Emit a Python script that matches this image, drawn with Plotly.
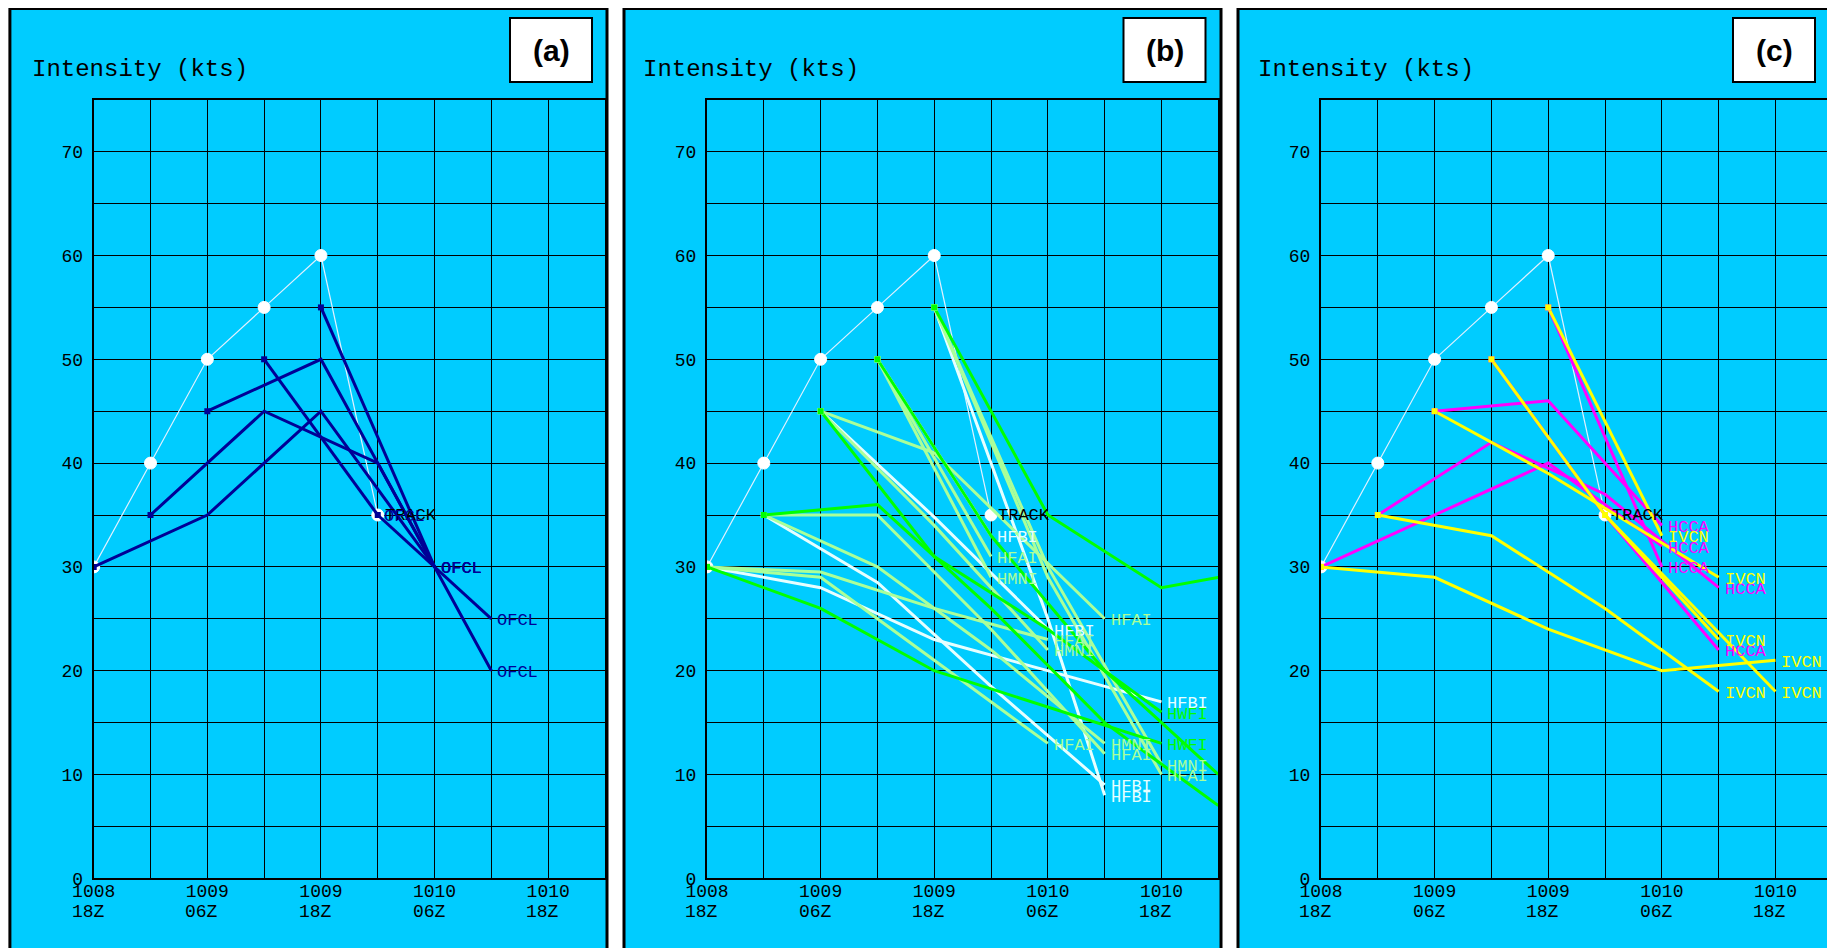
import plotly.graph_objects as go

W, H = 1835, 948
MONO = "Liberation Mono, Courier New, monospace"

# ---------------- data (x = hours after 1008 18Z, y = kts) ----------------
track_x = [0, 6, 12, 18, 24, 30]
track_y = [30, 40, 50, 55, 60, 35]

xtick_vals = [0, 6, 12, 18, 24, 30, 36, 42, 48, 54]
xtick_day = ["1008", "", "1009", "", "1009", "", "1010", "", "1010", ""]
xtick_hour = ["18Z", "", "06Z", "", "18Z", "", "06Z", "", "18Z", ""]
ytick_vals = [0, 5, 10, 15, 20, 25, 30, 35, 40, 45, 50, 55, 60, 65, 70, 75]
ytick_text = ["0", "", "10", "", "20", "", "30", "", "40", "", "50", "", "60", "", "70", ""]

panel_letters = ["(a)", "(b)", "(c)"]

# panel (a): official forecasts
ofcl_x = [[0, 12, 24, 36], [6, 18, 30, 42], [12, 24, 36], [18, 30], [24, 36], [30, 42]]
ofcl_y = [[30, 35, 45, 30], [35, 45, 40, 20], [45, 50, 30], [50, 35], [55, 30], [35, 25]]

# panel (b): HWRF-family models
hwfi_x = [[0, 12, 24, 36, 48], [6, 18, 30, 42, 54], [12, 24, 36, 48], [18, 30, 42, 54], [24, 36, 48, 60]]
hwfi_y = [[30, 26, 20, 16.5, 13], [35, 36, 26, 15, 7], [45, 31, 24, 16], [50, 33, 20, 10], [55, 35, 28, 30]]
hfbi_x = [[0, 12, 24, 36, 48], [6, 18, 30, 42], [12, 24, 36], [18, 30], [24, 36, 42]]
hfbi_y = [[30, 28, 23, 20, 17], [35, 28.5, 18.5, 9], [45, 34.8, 24], [50, 33], [55, 25, 8]]
hfai_x = [[0, 12, 24, 36], [0, 12, 24, 36], [6, 18, 30, 42], [12, 24, 42], [18, 30], [24, 36, 48]]
hfai_y = [[30, 29.5, 26, 23], [30, 29, 21, 13], [35, 35, 24, 12], [45, 41, 25], [50, 31], [55, 29, 10]]
hmni_x = [[6, 18, 30, 42], [12, 24, 36], [18, 30], [24, 36, 48]]
hmni_y = [[35, 30, 22, 13], [45, 34, 22], [50, 29], [55, 30, 11]]

# panel (c): consensus models
hcca_x = [[0, 12, 24, 36], [6, 18, 30, 42], [12, 24, 36], [18, 30, 42], [24, 36]]
hcca_y = [[30, 35, 40, 32], [35, 42, 37, 28], [45, 46, 34], [50, 35, 22], [55, 30]]
ivcn_x = [[0, 12, 24, 36, 48], [6, 18, 30, 42], [12, 24, 36, 42], [18, 30, 42], [24, 36], [30, 48]]
ivcn_y = [[30, 29, 24, 20, 21], [35, 33, 26, 18], [45, 39, 32.3, 29], [50, 35, 23], [55, 33], [35, 18]]

# ---------------- styling / geometry ----------------
CYAN = "#00CCFF"
NAVY = "#000096"
GREEN = "#00FF00"
PALE = "#AAFF99"
WHITE_L = "#E6FFFF"
YELLOW = "#FFFF00"
MAGENTA = "#FF00FF"

OFF = 8.0  # page body margin compensation
plot_x0 = [93.7 - OFF, 707.0 - OFF, 1321.0 - OFF]
plot_w = 511.3
plot_top, plot_bot = 99.8 - OFF, 878.3 - OFF
panel_left = [9.9 - OFF, 624.0 - OFF, 1238.0 - OFF]
panel_right = [607.0 - OFF, 1221.0 - OFF, 1850.0]
frame_top = 8.5 - OFF
box_x0 = [510.0 - OFF, 1123.5 - OFF, 1733.0 - OFF]
box_top, box_bot = 18.0 - OFF, 82.0 - OFF
title_x = [29.7 - OFF, 641.0 - OFF, 1255.7 - OFF]
title_y = 70.0 - OFF


def fx(x):
    return x / W


def fy(y):
    return 1 - y / H


panels = [
    [("OFCL", ofcl_x, ofcl_y, NAVY, NAVY)],
    [("HFBI", hfbi_x, hfbi_y, WHITE_L, WHITE_L),
     ("HFAI", hfai_x, hfai_y, PALE, PALE),
     ("HMNI", hmni_x, hmni_y, PALE, PALE),
     ("HWFI", hwfi_x, hwfi_y, GREEN, GREEN)],
    [("HCCA", hcca_x, hcca_y, MAGENTA, MAGENTA),
     ("IVCN", ivcn_x, ivcn_y, YELLOW, YELLOW)],
]

fig = go.Figure()
shapes = []
annotations = []
layout_axes = {}

for i in range(3):
    sfx = "" if i == 0 else str(i + 1)
    xa, ya = "x" + sfx, "y" + sfx
    xdom = [fx(plot_x0[i]), fx(plot_x0[i] + plot_w)]
    ydom = [fy(plot_bot), fy(plot_top)]
    layout_axes["xaxis" + sfx] = dict(
        domain=xdom, anchor=ya, range=[0, 54], tickmode="array",
        tickvals=xtick_vals, ticktext=xtick_day, automargin=False,
        showgrid=True, gridcolor="black", gridwidth=1.3,
        showline=True, linecolor="black", linewidth=2, mirror=True,
        ticks="outside", ticklen=2, tickcolor="rgba(0,0,0,0)", ticklabelstandoff=-7,
        tickfont=dict(family=MONO, size=18, color="black"),
        zeroline=False, fixedrange=True)
    layout_axes["yaxis" + sfx] = dict(
        domain=ydom, anchor=xa, range=[0, 75], tickmode="array",
        tickvals=ytick_vals, ticktext=ytick_text, automargin=False,
        showgrid=True, gridcolor="black", gridwidth=1.3,
        showline=True, linecolor="black", linewidth=2, mirror=True,
        ticks="outside", ticklen=5, tickcolor="rgba(0,0,0,0)",
        tickfont=dict(family=MONO, size=18, color="black"),
        zeroline=False, fixedrange=True)

    # panel frame
    shapes.append(dict(type="rect", xref="paper", yref="paper", layer="below",
                       x0=fx(panel_left[i]), x1=fx(panel_right[i]),
                       y0=-0.05, y1=fy(frame_top),
                       fillcolor=CYAN, line=dict(color="black", width=3)))
    # letter box
    shapes.append(dict(type="rect", xref="paper", yref="paper", layer="above",
                       x0=fx(box_x0[i]), x1=fx(box_x0[i] + 82),
                       y0=fy(box_bot), y1=fy(box_top),
                       fillcolor="white", line=dict(color="black", width=2)))
    annotations.append(dict(xref="paper", yref="paper", x=fx(box_x0[i] + 41),
                            y=fy((box_top + box_bot) / 2),
                            text="<b>%s</b>" % panel_letters[i], showarrow=False,
                            xanchor="center", yanchor="middle",
                            font=dict(family="Liberation Sans, Arial", size=30, color="black")))
    annotations.append(dict(xref="paper", yref="paper", x=fx(title_x[i]), y=fy(title_y),
                            text="Intensity (kts)", showarrow=False,
                            xanchor="left", yanchor="middle",
                            font=dict(family=MONO, size=24, color="black")))
    # second line of x tick labels
    for tv, th in zip(xtick_vals, xtick_hour):
        if th:
            annotations.append(dict(xref=xa, yref=ya + " domain", x=tv, y=0,
                                    text=th, showarrow=False, xanchor="left", yanchor="middle",
                                    xshift=-24, yshift=-34,
                                    font=dict(family=MONO, size=18, color="black")))

    # best track
    fig.add_trace(go.Scatter(x=track_x, y=track_y, xaxis=xa, yaxis=ya, mode="lines+markers",
                             line=dict(color="#E0F0FF", width=1.2),
                             marker=dict(symbol="circle", size=12, color="white",
                                         line=dict(color="white", width=1)),
                             showlegend=False, hoverinfo="skip"))
    annotations.append(dict(xref=xa, yref=ya, x=track_x[-1], y=track_y[-1], text="TRACK",
                            showarrow=False, xanchor="left", yanchor="middle", xshift=5, yshift=-1,
                            font=dict(family=MONO, size=17, color="black")))

    # forecasts
    for name, xs_list, ys_list, lcolor, tcolor in panels[i]:
        for xs, ys in zip(xs_list, ys_list):
            fig.add_trace(go.Scatter(x=xs, y=ys, xaxis=xa, yaxis=ya, mode="lines",
                                     line=dict(color=lcolor, width=3),
                                     showlegend=False, hoverinfo="skip"))
            if xs[-1] < 54:
                annotations.append(dict(xref=xa, yref=ya, x=xs[-1], y=ys[-1], text=name,
                                        showarrow=False, xanchor="left", yanchor="middle",
                                        xshift=4, yshift=-2,
                                        font=dict(family=MONO, size=17, color=tcolor)))
    # start markers
    for name, xs_list, ys_list, lcolor, tcolor in panels[i]:
        fig.add_trace(go.Scatter(x=[xs[0] for xs in xs_list], y=[ys[0] for ys in ys_list],
                                 xaxis=xa, yaxis=ya, mode="markers",
                                 marker=dict(symbol="square", size=6, color=lcolor),
                                 showlegend=False, hoverinfo="skip"))

fig.update_layout(
    template="none",
    width=W, height=H, margin=dict(l=0, r=0, t=0, b=0, pad=0),
    paper_bgcolor="white", plot_bgcolor=CYAN,
    shapes=shapes, annotations=annotations, showlegend=False,
    **layout_axes)

fig.write_html("out.html")
